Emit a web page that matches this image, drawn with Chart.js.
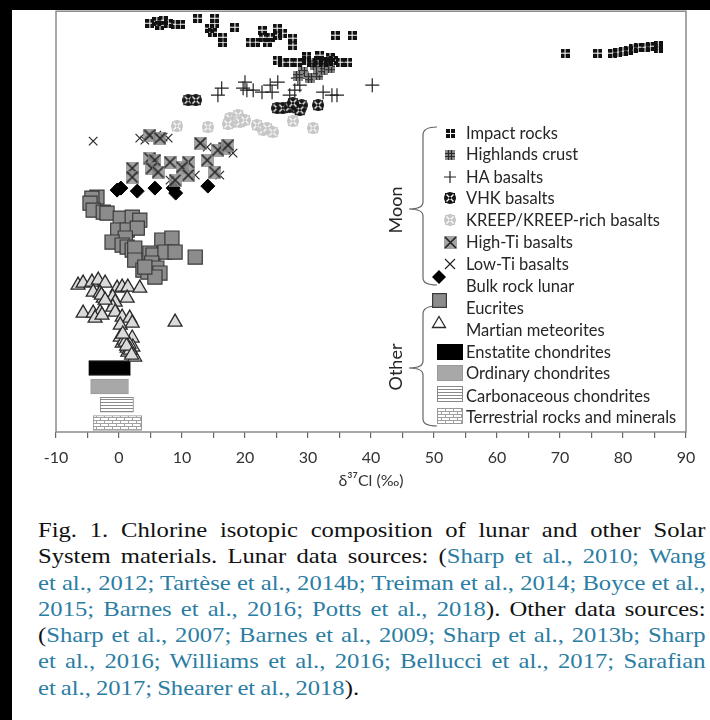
<!DOCTYPE html>
<html><head><meta charset="utf-8">
<script src="https://cdn.jsdelivr.net/npm/chart.js@4.4.1/dist/chart.umd.min.js"></script>
<style>
html,body{margin:0;padding:0;background:#fff;}
body{width:710px;height:720px;position:relative;overflow:hidden;font-family:Lato,sans-serif;font-variant-ligatures:none;}
#wrap{position:absolute;left:0;top:0;width:710px;height:500px;}
.blk{position:absolute;background:#000;z-index:5;}
.lg{position:absolute;left:466px;font-size:16.5px;color:#262626;line-height:18px;transform:translateY(-50%);white-space:nowrap;}
.ic{position:absolute;}
.grp{position:absolute;font-size:18px;color:#262626;transform:translate(-50%,-50%) rotate(-90deg);white-space:nowrap;}
#cap{position:absolute;left:38px;top:517px;font-family:'Liberation Serif','Times New Roman',serif;font-size:22px;line-height:26.3px;color:#111;}
#cap div{width:596px;transform:scaleX(1.12);transform-origin:0 0;text-align:justify;text-align-last:justify;white-space:nowrap;word-spacing:-1px;}
#cap div.last{text-align-last:left;}
#cap .l{color:#2b7da3;}
svg{position:absolute;left:0;top:0;}
</style>
</head><body>
<div id="wrap"><canvas id="c" width="710" height="500"></canvas></div>
<div class="blk" style="left:0;top:0;width:710px;height:10px"></div>
<div class="blk" style="left:0;top:0;width:12px;height:720px"></div>
<svg width="710" height="500">
<path d="M437,127 Q423,127 423,135 L423,202 Q423,209 409,209 Q423,209 423,216 L423,278 Q423,285 437,285" fill="none" stroke="#666" stroke-width="1.2"/>
<path d="M437,306 Q423,306 423,314 L423,361 Q423,368 409,368 Q423,368 423,375 L423,419 Q423,426 437,426" fill="none" stroke="#666" stroke-width="1.2"/>
</svg>
<div class="grp" style="left:395px;top:210px">Moon</div>
<div class="grp" style="left:395px;top:367px">Other</div>
<div id="legend"></div>
<div id="cap">
<div>Fig. 1. Chlorine isotopic composition of lunar and other Solar</div>
<div>System materials. Lunar data sources: (<span class="l">Sharp et al., 2010; Wang</span></div>
<div><span class="l">et al., 2012; Tartèse et al., 2014b; Treiman et al., 2014; Boyce et al.,</span></div>
<div><span class="l">2015; Barnes et al., 2016; Potts et al., 2018</span>). Other data sources:</div>
<div>(<span class="l">Sharp et al., 2007; Barnes et al., 2009; Sharp et al., 2013b; Sharp</span></div>
<div><span class="l">et al., 2016; Williams et al., 2016; Bellucci et al., 2017; Sarafian</span></div>
<div class="last"><span class="l">et al., 2017; Shearer et al., 2018</span>).</div>
</div>
<script>
// ---- data (x = δ37Cl ‰, y = arbitrary vertical plotting position) ----
const seriesNames = ['Impact rocks','Highlands crust','HA basalts','VHK basalts','KREEP/KREEP-rich basalts','High-Ti basalts','Low-Ti basalts','Bulk rock lunar','Eucrites','Martian meteorites','Enstatite chondrites','Ordinary chondrites','Carbonaceous chondrites','Terrestrial rocks and minerals'];
const impactX = [4.9,6.0,7.0,7.8,8.9,9.7,6.5,12.5,15.2,15.2,14.4,14.8,16.5,16.5,18.4,20.8,21.6,22.7,22.9,23.5,24.0,25.1,25.2,26.0,27.6,27.6,34.3,37.0,25.1,26.0,27.1,28.3,29.8,30.6,31.6,32.4,33.2,34.0,35.1,36.3,29.8,31.9,33.5,70.8,76.0,78.4,79.2,80.0,80.8,81.6,82.4,83.5,84.3,85.6,85.6];
const impactY = [409,411,412,409,408,408,407,414,414,409,404,400,395,390,405,390,390,402,395,390,395,404,397,399,394,387,397,397,372,370,370,370,372,370,372,370,371,372,370,370,376,377,375,379,379,379,380,381,382,384,385,385,386,387,384];
const highlandX = [29.2,30.3,31.6,32.4,33.5,31.1,33.0,28.4];
const highlandY = [360,354,357,362,364,367,370,356];
const haX = [20.0,19.7,15.7,16.3,20.3,21.3,22.7,24.0,25.2,24.3,27.1,27.9,28.7,29.0,32.4,33.8,34.6,40.2,28.4];
const haY = [350,344,337,344,342,342,340,347,350,340,337,342,347,360,340,337,337,347,354];
const vhkX = [11.0,12.2,25.1,26.0,27.1,28.3,29.0,31.6,28.7,27.6];
const vhkY = [332,332,324,324,325,324,327,327,322,329];
const kreepX = [9.2,14.1,17.6,18.1,18.9,19.2,21.9,22.9,23.5,24.4,27.6,30.8,17.3,20.0];
const kreepY = [306,305,314,310,317,310,307,302,304,300,311,304,308,312];
const highTiX = [2.1,2.1,4.9,5.7,5.2,6.2,8.1,8.9,11.0,10.0,11.0,14.0,15.2,12.9,16.8,4.9,6.5,15.7,17.3];
const highTiY = [264,255,274,272,264,260,270,252,270,265,257,272,260,289,284,297,294,282,287];
const lowTiX = [-4.1,3.3,4.6,6.0,7.0,7.8,12.9,14.0,18.1,5.7,10.5,12.1,16.0,8.1,4.1];
const lowTiY = [291,294,297,297,295,294,289,285,279,269,265,257,257,252,292];
const bulkX = [-0.3,0.3,2.9,5.7,8.6,9.0,14.1];
const bulkY = [242,244,241,244,244,239,246];
const eucriteX = [-3.5,-4.3,-4.6,-4.1,-2.5,-1.9,0.2,2.1,3.3,-0.2,1.3,2.9,1.0,-1.1,0.5,1.3,2.1,2.5,6.8,8.4,2.5,4.9,5.4,7.3,8.9,5.2,3.8,4.6,6.0,6.5,5.7,4.1,12.1];
const eucriteY = [235,234,229,222,220,219,214,215,212,202,202,204,194,190,187,185,182,184,192,194,172,179,177,180,180,169,162,160,164,159,155,165,175];
const martianX = [-6.5,-5.7,-4.3,-3.3,-2.2,-4.1,-3.0,-2.5,-0.3,0.5,1.4,3.3,-1.0,-0.6,1.3,-5.7,-4.1,-3.0,-3.8,-2.7,-1.0,-0.6,0.5,1.7,0.2,2.1,8.9,0.2,2.1,0.5,2.2,1.3,2.1,2.5,1.4,0.8,1.6,-2.8,-2.2,1.0,1.8,1.2,2.0,0.6];
const martianY = [147,149,150,152,149,140,139,134,144,145,145,144,135,130,134,119,119,120,114,117,125,120,115,114,107,109,110,95,94,89,85,84,79,75,80,92,88,137,132,90,82,86,77,98];
const enstatiteRange = [-4.8,1.8], ordinaryRange = [-4.5,1.5], carbonaceousRange = [-3.0,2.3], terrestrialRange = [-4.1,3.6];
const rangeRows = [64,45.5,27.3,9];
const tickLabels = ['-10','0','10','20','30','40','50','60','70','80','90'];

// ---- marker images ----
function cv(w,h){const c=document.createElement('canvas');c.width=w;c.height=h;return c;}
function iconImpact(){const c=cv(9,9),g=c.getContext('2d');g.fillStyle='#111';[[0,0],[5,0],[0,5],[5,5]].forEach(p=>g.fillRect(p[0],p[1],4,4));return c;}
function iconHighland(){const c=cv(10,10),g=c.getContext('2d');g.fillStyle='#8a8a8a';g.fillRect(0,0,10,10);g.strokeStyle='#2a2a2a';g.lineWidth=1.2;g.beginPath();[3.5,6.5].forEach(v=>{g.moveTo(v,0);g.lineTo(v,10);g.moveTo(0,v);g.lineTo(10,v);});g.stroke();return c;}
function iconBlob(col){const c=cv(12,12),g=c.getContext('2d');g.fillStyle=col;g.beginPath();g.arc(6,6,6,0,Math.PI*2);g.fill();g.fillRect(1,1,10,10);g.strokeStyle='#fff';g.lineWidth=1.4;g.beginPath();g.moveTo(2.5,2.5);g.lineTo(9.5,9.5);g.moveTo(9.5,2.5);g.lineTo(2.5,9.5);g.stroke();g.fillStyle=col;g.fillRect(5,5,2,2);return c;}
function iconHighTi(){const c=cv(13,13),g=c.getContext('2d');g.fillStyle='rgba(140,140,140,0.8)';g.fillRect(0,0,13,13);g.strokeStyle='#222';g.lineWidth=1.6;g.beginPath();g.moveTo(1,1);g.lineTo(12,12);g.moveTo(12,1);g.lineTo(1,12);g.stroke();return c;}
function patCarb(){const c=cv(4,3),g=c.getContext('2d');g.fillStyle='#fff';g.fillRect(0,0,4,3);g.fillStyle='#8a8a8a';g.fillRect(0,0,4,1);return c;}
function patTerr(){const c=cv(8,6),g=c.getContext('2d');g.fillStyle='#fff';g.fillRect(0,0,8,6);g.fillStyle='#a0a0a0';g.fillRect(0,0,8,1);g.fillRect(0,3,8,1);g.fillRect(0,0,1,3);g.fillRect(4,3,1,3);return c;}

const pts=(xs,ys)=>xs.map((x,i)=>({x:x,y:ys[i]}));
const ctx=document.getElementById('c').getContext('2d');
const carbPattern=ctx.createPattern(patCarb(),'repeat');
const terrPattern=ctx.createPattern(patTerr(),'repeat');

const bar=(label,range,row,bg,bc)=>({type:'bar',label:label,indexAxis:'y',grouped:false,data:[{x:range,y:row}],backgroundColor:bg,borderColor:bc,borderWidth:1,borderSkipped:false,barPercentage:1,categoryPercentage:1,maxBarThickness:15});

const framePlugin={id:'frame',beforeDatasetsDraw(ch){const a=ch.chartArea,g=ch.ctx;g.save();g.strokeStyle='#8a8a8a';g.lineWidth=1.5;g.strokeRect(a.left,a.top,a.right-a.left,a.bottom-a.top);g.restore();}};

new Chart(ctx,{
  type:'scatter',
  data:{datasets:[
    {label:seriesNames[0],data:pts(impactX,impactY),pointStyle:iconImpact(),pointRadius:5},
    {label:seriesNames[1],data:pts(highlandX,highlandY),pointStyle:iconHighland(),pointRadius:5},
    {label:seriesNames[2],data:pts(haX,haY),pointStyle:'cross',pointRadius:7,borderColor:'#222',pointBorderWidth:1.2},
    {label:seriesNames[3],data:pts(vhkX,vhkY),pointStyle:iconBlob('#151515'),pointRadius:6},
    {label:seriesNames[4],data:pts(kreepX,kreepY),pointStyle:iconBlob('#c6c6c6'),pointRadius:6},
    {label:seriesNames[5],data:pts(highTiX,highTiY),pointStyle:iconHighTi(),pointRadius:6},
    {label:seriesNames[6],data:pts(lowTiX,lowTiY),pointStyle:'crossRot',pointRadius:6,borderColor:'#2a2a2a',pointBorderWidth:1.2},
    {label:seriesNames[7],data:pts(bulkX,bulkY),pointStyle:'rectRot',pointRadius:7,backgroundColor:'#000',borderColor:'#000',pointBorderWidth:1},
    {label:seriesNames[8],data:pts(eucriteX,eucriteY),pointStyle:'rect',pointRadius:10,backgroundColor:'#8c8c8c',borderColor:'#3a3a3a',pointBorderWidth:1.2},
    {label:seriesNames[9],data:pts(martianX,martianY),pointStyle:'triangle',pointRadius:8,backgroundColor:'#dadada',borderColor:'#2a2a2a',pointBorderWidth:1.3},
    bar(seriesNames[10],enstatiteRange,rangeRows[0],'#000','#000'),
    bar(seriesNames[11],ordinaryRange,rangeRows[1],'#a8a8a8','#999'),
    bar(seriesNames[12],carbonaceousRange,rangeRows[2],carbPattern,'#888'),
    bar(seriesNames[13],terrestrialRange,rangeRows[3],terrPattern,'#999')
  ]},
  options:{
    responsive:false,animation:false,events:[],
    layout:{padding:{left:56,right:24,top:11,bottom:0}},
    plugins:{legend:{display:false},tooltip:{enabled:false}},
    scales:{
      x:{type:'linear',min:-10,max:90,offset:false,
        afterFit(s){s.height=68;},
        border:{display:false},
        grid:{drawOnChartArea:false,drawTicks:true,tickLength:6,color:'#666',lineWidth:1.2,offset:false},
        ticks:{stepSize:5,autoSkip:false,maxRotation:0,padding:10,color:'#333',font:{family:'Lato',size:16},
          callback:(v)=>{const i=tickLabels.indexOf(String(v));return i>=0?tickLabels[i]:'';}},
        title:{display:true,text:'δ³⁷Cl (‰)',color:'#333',font:{family:'Lato',size:16},padding:{top:0,bottom:10}}
      },
      y:{type:'linear',min:0,max:421,display:false,offset:false,beginAtZero:false,grid:{offset:false}}
    }
  },
  plugins:[framePlugin]
});

// ---- legend (HTML) ----
const L=document.getElementById('legend');
const rowsY=[133,154,177,198,220,242,264,286,308,330,352,373,396,417];
seriesNames.forEach((n,i)=>{const d=document.createElement('div');d.className='lg';d.style.top=rowsY[i]+'px';d.textContent=n;L.appendChild(d);});
function place(el,cx,cy){el.className='ic';el.style.left=(cx-el.width/2)+'px';el.style.top=(cy-el.height/2)+'px';L.appendChild(el);}
place(iconImpact(),450,133);
place(iconHighland(),450,155);
function shape(w,h,fn){const c=cv(w,h);fn(c.getContext('2d'));return c;}
place(shape(14,14,g=>{g.strokeStyle='#222';g.lineWidth=1.2;g.beginPath();g.moveTo(7,1);g.lineTo(7,13);g.moveTo(1,7);g.lineTo(13,7);g.stroke();}),450,177);
place(iconBlob('#151515'),450,198);
place(iconBlob('#c6c6c6'),450,220);
place(iconHighTi(),450,242);
place(shape(14,14,g=>{g.strokeStyle='#222';g.lineWidth=1.2;g.beginPath();g.moveTo(2,2);g.lineTo(12,12);g.moveTo(12,2);g.lineTo(2,12);g.stroke();}),450,264);
place(shape(16,16,g=>{g.fillStyle='#000';g.beginPath();g.moveTo(8,1);g.lineTo(15,8);g.lineTo(8,15);g.lineTo(1,8);g.closePath();g.fill();}),439,277);
place(shape(15,15,g=>{g.fillStyle='#8c8c8c';g.fillRect(0.5,0.5,14,14);g.strokeStyle='#3a3a3a';g.lineWidth=1.2;g.strokeRect(0.6,0.6,13.8,13.8);}),439,300);
place(shape(16,14,g=>{g.fillStyle='#fff';g.strokeStyle='#2a2a2a';g.lineWidth=1.3;g.beginPath();g.moveTo(8,1.5);g.lineTo(14.5,12.5);g.lineTo(1.5,12.5);g.closePath();g.fill();g.stroke();}),439,322);
function boxIcon(fill,stroke,cy){const c=cv(26,16),g=c.getContext('2d');g.fillStyle=fill;g.fillRect(0,0,26,16);g.strokeStyle=stroke;g.lineWidth=1;g.strokeRect(0.5,0.5,25,15);place(c,450,cy);}
boxIcon('#000','#000',352);
boxIcon('#a8a8a8','#999',373);
(function(){const c=cv(26,16),g=c.getContext('2d');g.fillStyle=g.createPattern(patCarb(),'repeat');g.fillRect(0,0,26,16);g.strokeStyle='#888';g.strokeRect(0.5,0.5,25,15);place(c,450,394);})();
(function(){const c=cv(26,16),g=c.getContext('2d');g.fillStyle=g.createPattern(patTerr(),'repeat');g.fillRect(0,0,26,16);g.strokeStyle='#999';g.strokeRect(0.5,0.5,25,15);place(c,450,416);})();
</script>
</body></html>
